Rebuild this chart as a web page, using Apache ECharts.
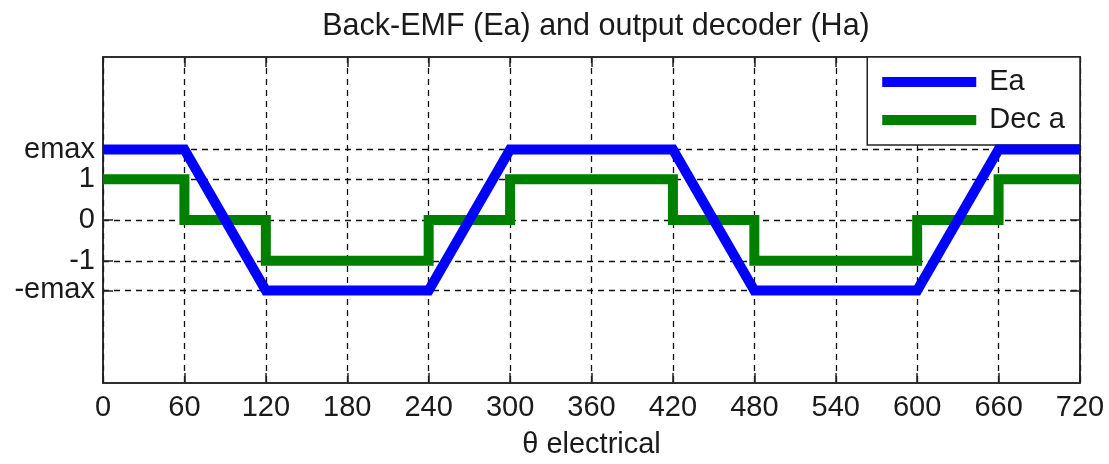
<!DOCTYPE html>
<html>
<head>
<meta charset="utf-8">
<script src="https://cdn.jsdelivr.net/npm/echarts@6/dist/echarts.min.js"></script>
<style>
html,body{margin:0;padding:0;background:#fff;}
#chart{width:1109px;height:464px;}
</style>
</head>
<body>
<div id="chart"></div>
<script>
// ---- data ----
var emax = 1.73;
var thetaEa = [0, 60, 120, 240, 300, 420, 480, 600, 660, 720];
var eaValues = [emax, emax, -emax, -emax, emax, emax, -emax, -emax, emax, emax];
var thetaDec = [0, 60, 120, 240, 300, 420, 480, 600, 660, 720];
var decValues = [1, 0, -1, 0, 1, 0, -1, 0, 1, 1];
var xTicks = [0, 60, 120, 180, 240, 300, 360, 420, 480, 540, 600, 660, 720];
var yTickValues = [-emax, -1, 0, 1, emax];
var yTickLabels = ['-emax', '-1', '0', '1', 'emax'];
var seriesNames = ['Ea', 'Dec a'];
var titleText = 'Back-EMF (Ea) and output decoder (Ha)';
var xName = 'θ electrical';

function pairs(xs, ys) { return xs.map(function (x, i) { return [x, ys[i]]; }); }

var FONT = 'Liberation Sans';
var TXT = '#1a1a1a';
var gridLine = { show: true, lineStyle: { color: '#111', type: [6, 5], width: 1.3 } };
var axisLineStyle = { show: true, onZero: false, lineStyle: { color: '#222', width: 1.5 } };

var chart = echarts.init(document.getElementById('chart'), null, { renderer: 'canvas' });
chart.setOption({
  animation: false,
  backgroundColor: '#fff',
  title: {
    text: titleText, left: 591, textAlign: 'center', top: 6,
    textStyle: { fontFamily: FONT, fontSize: 30.5, fontWeight: 'normal', color: TXT }
  },
  grid: { left: 103, right: 29, top: 57, bottom: 81, show: true, borderColor: '#222', borderWidth: 1.5, backgroundColor: '#fff' },
  legend: {
    right: 29, top: 57, orient: 'vertical',
    backgroundColor: '#fff', borderColor: '#222', borderWidth: 1.5,
    padding: [10, 15, 10, 15], itemGap: 8,
    itemWidth: 94, itemHeight: 10, icon: 'rect',
    textStyle: { fontFamily: FONT, fontSize: 29, color: TXT, lineHeight: 30, padding: [0, 0, 0, 8] },
    data: seriesNames
  },
  xAxis: [{
    type: 'value', min: 0, max: 720, interval: 60,
    name: xName, nameLocation: 'middle', nameGap: 47,
    nameTextStyle: { fontFamily: FONT, fontSize: 29, color: TXT },
    axisLine: axisLineStyle,
    axisTick: { show: true, inside: true, length: 10, lineStyle: { color: '#222', width: 1.5 } },
    axisLabel: { fontFamily: FONT, fontSize: 29, color: TXT, margin: 10,
      formatter: function (v) { return xTicks.indexOf(v) >= 0 ? String(v) : ''; } },
    splitLine: gridLine
  }, {
    type: 'value', min: 0, max: 720, interval: 60, position: 'top',
    axisLine: axisLineStyle,
    axisTick: { show: true, inside: true, length: 10, lineStyle: { color: '#222', width: 1.5 } },
    axisLabel: { show: false }, splitLine: { show: false }
  }],
  yAxis: [{
    type: 'value', min: -4, max: 4,
    axisLine: axisLineStyle,
    axisTick: { show: true, inside: true, length: 10, customValues: yTickValues, lineStyle: { color: '#222', width: 1.5 } },
    axisLabel: { fontFamily: FONT, fontSize: 29, color: TXT, margin: 8, customValues: yTickValues,
      formatter: function (v) {
        for (var i = 0; i < yTickValues.length; i++) { if (Math.abs(yTickValues[i] - v) < 1e-6) return yTickLabels[i]; }
        return '';
      } },
    splitLine: gridLine
  }, {
    type: 'value', min: -4, max: 4, position: 'right',
    axisLine: axisLineStyle,
    axisTick: { show: true, inside: true, length: 10, customValues: yTickValues, lineStyle: { color: '#222', width: 1.5 } },
    axisLabel: { show: false }, splitLine: { show: false }
  }],
  series: [{
    name: seriesNames[0], type: 'line', data: pairs(thetaEa, eaValues),
    showSymbol: false, symbol: 'none', z: 4,
    itemStyle: { color: '#0000ff' },
    lineStyle: { color: '#0000ff', width: 10, join: 'miter' }
  }, {
    name: seriesNames[1], type: 'line', data: pairs(thetaDec, decValues), step: 'end',
    showSymbol: false, symbol: 'none', z: 3,
    itemStyle: { color: '#008000' },
    lineStyle: { color: '#008000', width: 10, join: 'miter' }
  }]
});
</script>
</body>
</html>
